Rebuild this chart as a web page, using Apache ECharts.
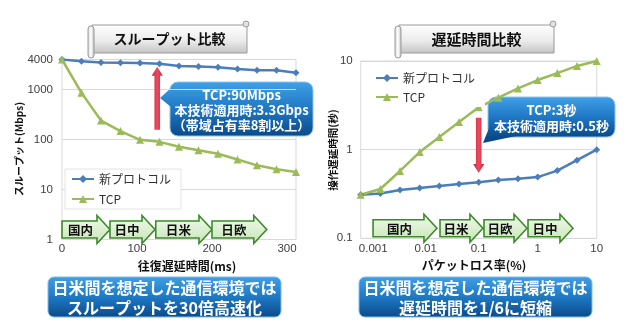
<!DOCTYPE html>
<html>
<head>
<meta charset="utf-8">
<script src="https://cdn.jsdelivr.net/npm/echarts@6/dist/echarts.min.js"></script>
<style>
  html, body { margin: 0; padding: 0; background: #ffffff; }
  #chart { width: 643px; height: 335px; }
</style>
</head>
<body>
<div id="chart"></div>
<script>
// ---- Throughput vs round-trip delay ----
const rttMs = [0, 26, 52, 78, 104, 130, 156, 182, 208, 234, 260, 286, 312];
const throughputNew = [4000, 3700, 3500, 3450, 3400, 3300, 2950, 2900, 2800, 2580, 2450, 2450, 2170];
const throughputTcp = [4000, 860, 240, 148, 99, 90, 72, 61, 52, 40, 30.5, 25.4, 22.4];
const rttTicks = [0, 100, 200, 300];
const throughputTicks = [1, 10, 100, 1000, 4000];
const rttRegions = ['国内', '日中', '日米', '日欧'];
const rttRegionSpans = [[0, 64], [64, 124], [125, 200], [200, 273]];

// ---- Operation delay vs packet loss ----
const lossPct = [0.001, 0.00215, 0.00464, 0.01, 0.0215, 0.0464, 0.1, 0.215, 0.464, 1, 2.15, 4.64, 10];
const delayNew = [0.31, 0.32, 0.35, 0.37, 0.39, 0.41, 0.43, 0.455, 0.47, 0.49, 0.58, 0.76, 1.0];
const delayTcp = [0.31, 0.36, 0.575, 0.94, 1.39, 2.05, 3, 3.86, 4.9, 6.1, 7.3, 8.8, 10];
const lossTicks = [0.001, 0.01, 0.1, 1, 10];
const lossTickLabels = ['0.001', '0.01', '0.1', '1', '10'];
const delayTicks = [0.1, 1, 10];
const delayTickLabels = ['0.1', '1', '10'];
const lossRegions = ['国内', '日米', '日欧', '日中'];
const lossRegionSpans = [[0.00162, 0.0196], [0.0221, 0.118], [0.123, 0.659], [0.685, 3.96]];

// ---- Highlighted gaps (TCP -> new protocol) ----
const gapRtt = 127;
const gapThroughput = [90, 3300];   // Mbps: TCP, new protocol
const gapLoss = 0.1;
const gapDelay = [3, 0.5];          // seconds: TCP, new protocol

const seriesNames = ['新プロトコル', 'TCP'];
const BLUE = '#4a7ebb';
const GREEN = '#9bbb59';
const JP = "'Noto Sans CJK JP', 'Noto Sans', sans-serif";
const NUM = "'Liberation Sans', Arial, sans-serif";

const chart = echarts.init(document.getElementById('chart'), null, { renderer: 'canvas' });

function arrowFill() {
  return new echarts.graphic.LinearGradient(0, 0, 0, 1, [
    { offset: 0, color: '#f1faec' },
    { offset: 1, color: '#c6e5b6' }
  ]);
}
// blue gloss; optional absolute vertical extent so several shapes share one gradient
function blueFill(y0, y1) {
  const stops = [
    { offset: 0, color: '#3f9fe6' },
    { offset: 0.5, color: '#1f78c4' },
    { offset: 1, color: '#0b4a8a' }
  ];
  if (y0 === undefined) return new echarts.graphic.LinearGradient(0, 0, 0, 1, stops);
  return new echarts.graphic.LinearGradient(0, y0, 0, y1, stops, true);
}
function greyFill() {
  return new echarts.graphic.LinearGradient(0, 0, 0, 1, [
    { offset: 0, color: '#ffffff' },
    { offset: 0.55, color: '#ececec' },
    { offset: 1, color: '#c4c4c4' }
  ]);
}

// Block arrows naming the network regions along the bottom of a plot
function regionSeries(axisIndex, names, spans, yRef) {
  return {
    type: 'custom',
    xAxisIndex: axisIndex,
    yAxisIndex: axisIndex,
    clip: false,
    silent: true,
    z: 20,
    data: spans.map(s => [s[0], s[1]]),
    renderItem(params, api) {
      const x0 = api.coord([api.value(0), yRef])[0];
      const x1 = api.coord([api.value(1), yRef])[0];
      const cs = params.coordSys;
      const mid = cs.y + cs.height - 10;
      const head = 13, bh = 8.5, hh = 14;
      const xb = x1 - head;
      const pts = [[x0, mid - bh], [xb, mid - bh], [xb, mid - hh], [x1, mid],
                   [xb, mid + hh], [xb, mid + bh], [x0, mid + bh]];
      return {
        type: 'group',
        children: [
          { type: 'polygon', shape: { points: pts },
            style: { fill: arrowFill(), stroke: '#3d8a2a', lineWidth: 1.6, lineJoin: 'miter' } },
          { type: 'text',
            style: { text: names[params.dataIndex], x: (x0 + xb) / 2 + 1, y: mid + 0.5,
                     align: 'center', verticalAlign: 'middle',
                     font: 'bold 12.5px ' + JP, fill: '#111' } }
        ]
      };
    }
  };
}

// Red arrow spanning the gap between the two protocols at one x value
function gapArrowSeries(axisIndex, x, fromVal, toVal, tailInset, tipInset) {
  return {
    type: 'custom',
    xAxisIndex: axisIndex,
    yAxisIndex: axisIndex,
    clip: false,
    silent: true,
    z: 15,
    data: [[x, fromVal, toVal]],
    renderItem(params, api) {
      const p0 = api.coord([api.value(0), api.value(1)]);
      const p1 = api.coord([api.value(0), api.value(2)]);
      const dir = p1[1] < p0[1] ? -1 : 1;
      const cx = p0[0];
      const yTail = p0[1] + dir * tailInset;
      const yTip = p1[1] - dir * tipInset;
      const headLen = 9, sw = 2.8, hw = 5.6;
      const yHead = yTip - dir * headLen;
      const pts = [[cx - sw, yTail], [cx + sw, yTail], [cx + sw, yHead], [cx + hw, yHead],
                   [cx, yTip], [cx - hw, yHead], [cx - sw, yHead]];
      return {
        type: 'polygon', shape: { points: pts },
        style: { fill: new echarts.graphic.LinearGradient(0, 0, 1, 0, [
          { offset: 0, color: '#c22a40' }, { offset: 0.5, color: '#ec4a60' }, { offset: 1, color: '#c22a40' }
        ]) }
      };
    }
  };
}

function tickFormatter(ticks, labels) {
  return function (v) {
    for (let i = 0; i < ticks.length; i++) {
      if (Math.abs(Math.log10(v) - Math.log10(ticks[i])) < 1e-6) return labels[i];
    }
    return '';
  };
}

const axisLabelStyle = { color: '#404040', fontSize: 11.5, fontFamily: NUM };
const gridLine = { lineStyle: { color: '#d9d9d9', width: 1 } };

function titleBanner(x, y, w, h, text, fontSize) {
  return {
    type: 'group', z: 100,
    children: [
      { type: 'rect', shape: { x: x + 4, y: y + 3, width: w - 4, height: h - 4 },
        style: { fill: greyFill(), stroke: '#9a9a9a', lineWidth: 1 } },
      { type: 'rect', shape: { x: x, y: y + 4, width: 6, height: h, r: 3 },
        style: { fill: new echarts.graphic.LinearGradient(0, 0, 1, 0, [
          { offset: 0, color: '#d0d0d0' }, { offset: 0.5, color: '#ffffff' }, { offset: 1, color: '#b8b8b8' }
        ]), stroke: '#9a9a9a', lineWidth: 1 } },
      { type: 'circle', shape: { cx: x + w - 1, cy: y + 2, r: 3 },
        style: { fill: '#e2e2e2', stroke: '#9a9a9a', lineWidth: 1 } },
      { type: 'text', style: { text: text, x: x + w / 2 + 2, y: y + h / 2 + 1,
          align: 'center', verticalAlign: 'middle', font: 'bold ' + fontSize + 'px ' + JP, fill: '#111' } }
    ]
  };
}

function bottomBanner(x, y, w, h, lines) {
  return {
    type: 'group', z: 100,
    children: [
      { type: 'rect', shape: { x: x, y: y, width: w, height: h, r: 6 },
        style: { fill: blueFill(), stroke: '#7fbcea', lineWidth: 1 } },
      { type: 'text', style: { text: lines.join('\n'), x: x + w / 2, y: y + h / 2 + 1,
          align: 'center', verticalAlign: 'middle', lineHeight: 20.5,
          font: 'bold 16px ' + JP, fill: '#ffffff' } }
    ]
  };
}

// Rounded box with a pointer triangle, sharing one gradient
function callout(box, pointer, lines, lineHeight) {
  const fill = blueFill(box.y, box.y + box.h);
  return {
    type: 'group', z: 110,
    children: [
      { type: 'rect', shape: { x: box.x, y: box.y, width: box.w, height: box.h, r: 8 },
        style: { fill: fill, stroke: '#8cc4ef', lineWidth: 1 } },
      { type: 'polygon', shape: { points: pointer },
        style: { fill: blueFill(box.y, box.y + box.h) } },
      { type: 'text', style: { text: lines.join('\n'), x: box.x + box.w / 2, y: box.y + box.h / 2 + 1,
          align: 'center', verticalAlign: 'middle', lineHeight: lineHeight,
          font: 'bold 13px ' + JP, fill: '#ffffff' } }
    ]
  };
}

const option = {
  animation: false,
  backgroundColor: '#ffffff',
  textStyle: { fontFamily: JP },
  grid: [
    { left: 62, top: 59.5, width: 234, height: 180, show: true, borderColor: '#d9d9d9', borderWidth: 1 },
    { left: 360.7, top: 61, width: 236, height: 177.3, show: true, borderColor: '#d9d9d9', borderWidth: 1 }
  ],
  xAxis: [
    { gridIndex: 0, type: 'value', min: 0, max: 312, interval: 100,
      axisLine: { show: false }, axisTick: { show: false }, splitLine: { show: false },
      axisLabel: Object.assign({}, axisLabelStyle, { margin: 3, showMaxLabel: false,
        formatter: v => rttTicks.includes(v) ? String(v) : '' }) },
    { gridIndex: 1, type: 'log', logBase: 10, min: 0.001, max: 10,
      axisLine: { show: false }, axisTick: { show: false }, splitLine: { show: false },
      minorTick: { show: false }, minorSplitLine: { show: false },
      axisLabel: Object.assign({}, axisLabelStyle, { margin: 5,
        formatter: function (v) {
          const s = tickFormatter(lossTicks, lossTickLabels)(v);
          if (s === lossTickLabels[0]) return '{a|' + s + '}';
          if (s === lossTickLabels[1]) return '{b|' + s + '}';
          return s;
        },
        rich: {
          a: { padding: [0, 0, 0, 25], fontSize: 11.5, fontFamily: NUM, color: '#404040' },
          b: { padding: [0, 0, 0, 12], fontSize: 11.5, fontFamily: NUM, color: '#404040' }
        } }) }
  ],
  yAxis: [
    { gridIndex: 0, type: 'log', logBase: 10, min: 1, max: 4000,
      axisLine: { show: false }, axisTick: { show: false }, splitLine: gridLine,
      minorTick: { show: false }, minorSplitLine: { show: false },
      axisLabel: Object.assign({}, axisLabelStyle, { margin: 9, showMaxLabel: true, showMinLabel: true,
        formatter: tickFormatter(throughputTicks, throughputTicks.map(String)) }) },
    { gridIndex: 1, type: 'log', logBase: 10, min: 0.1, max: 10,
      axisLine: { show: false }, axisTick: { show: false }, splitLine: gridLine,
      minorTick: { show: false }, minorSplitLine: { show: false },
      axisLabel: Object.assign({}, axisLabelStyle, { margin: 8, showMaxLabel: true, showMinLabel: true,
        formatter: tickFormatter(delayTicks, delayTickLabels) }) }
  ],
  legend: [
    { left: 65, top: 169, orient: 'vertical', itemGap: 8, itemWidth: 22, itemHeight: 10,
      padding: [4, 10, 4, 6], backgroundColor: '#ffffff', borderColor: '#e4e4e4', borderWidth: 1,
      data: seriesNames, textStyle: { fontSize: 12, color: '#333', fontFamily: JP } },
    { left: 369, top: 68, orient: 'vertical', itemGap: 7, itemWidth: 22, itemHeight: 10,
      padding: [4, 10, 4, 6], backgroundColor: '#ffffff',
      data: seriesNames, textStyle: { fontSize: 12, color: '#333', fontFamily: JP } }
  ],
  series: [
    { name: seriesNames[0], type: 'line', xAxisIndex: 0, yAxisIndex: 0,
      data: rttMs.map((x, i) => [x, throughputNew[i]]),
      symbol: 'diamond', symbolSize: 7, lineStyle: { color: BLUE, width: 2.5 }, itemStyle: { color: BLUE } },
    { name: seriesNames[1], type: 'line', xAxisIndex: 0, yAxisIndex: 0,
      data: rttMs.map((x, i) => [x, throughputTcp[i]]),
      symbol: 'triangle', symbolSize: 8, lineStyle: { color: GREEN, width: 2.5 }, itemStyle: { color: GREEN } },
    { name: seriesNames[0], type: 'line', xAxisIndex: 1, yAxisIndex: 1,
      data: lossPct.map((x, i) => [x, delayNew[i]]),
      symbol: 'diamond', symbolSize: 7, lineStyle: { color: BLUE, width: 2.5 }, itemStyle: { color: BLUE } },
    { name: seriesNames[1], type: 'line', xAxisIndex: 1, yAxisIndex: 1,
      data: lossPct.map((x, i) => [x, delayTcp[i]]),
      symbol: 'triangle', symbolSize: 8, lineStyle: { color: GREEN, width: 2.5 }, itemStyle: { color: GREEN } },
    regionSeries(0, rttRegions, rttRegionSpans, 1),
    regionSeries(1, lossRegions, lossRegionSpans, 1),
    gapArrowSeries(0, gapRtt, gapThroughput[0], gapThroughput[1], 12, 3),
    gapArrowSeries(1, gapLoss, gapDelay[0], gapDelay[1], 10.5, 3.4)
  ],
  graphic: [
    titleBanner(88, 22, 159, 32, 'スループット比較', 14),
    titleBanner(395, 22, 159, 32, '遅延時間比較', 15),
    { type: 'text', z: 100, x: 19, y: 149, rotation: Math.PI / 2,
      style: { text: 'スループット(Mbps)', align: 'center', verticalAlign: 'middle',
               font: 'bold 10px ' + JP, fill: '#111' } },
    { type: 'text', z: 100, x: 333, y: 150, rotation: Math.PI / 2,
      style: { text: '操作遅延時間(秒)', align: 'center', verticalAlign: 'middle',
               font: 'bold 10.5px ' + JP, fill: '#111' } },
    { type: 'text', z: 100, x: 187, y: 266,
      style: { text: '往復遅延時間(ms)', align: 'center', verticalAlign: 'middle',
               font: 'bold 12px ' + JP, fill: '#111' } },
    { type: 'text', z: 100, x: 474, y: 265,
      style: { text: 'パケットロス率(%)', align: 'center', verticalAlign: 'middle',
               font: 'bold 12px ' + JP, fill: '#111' } },
    callout({ x: 170, y: 82, w: 143, h: 54 }, [[171, 88], [160, 98], [171, 107]],
            ['TCP:90Mbps', '本技術適用時:3.3Gbps', '（帯域占有率8割以上）'], 15),
    callout({ x: 488, y: 97, w: 127, h: 40 }, [[489, 128], [483, 143], [516, 136]],
            ['TCP:3秒', '本技術適用時:0.5秒'], 16),
    bottomBanner(48, 277, 233, 40, ['日米間を想定した通信環境では', 'スループットを30倍高速化']),
    bottomBanner(359, 277, 233, 40, ['日米間を想定した通信環境では', '遅延時間を1/6に短縮'])
  ]
};

chart.setOption(option);
</script>
</body>
</html>
